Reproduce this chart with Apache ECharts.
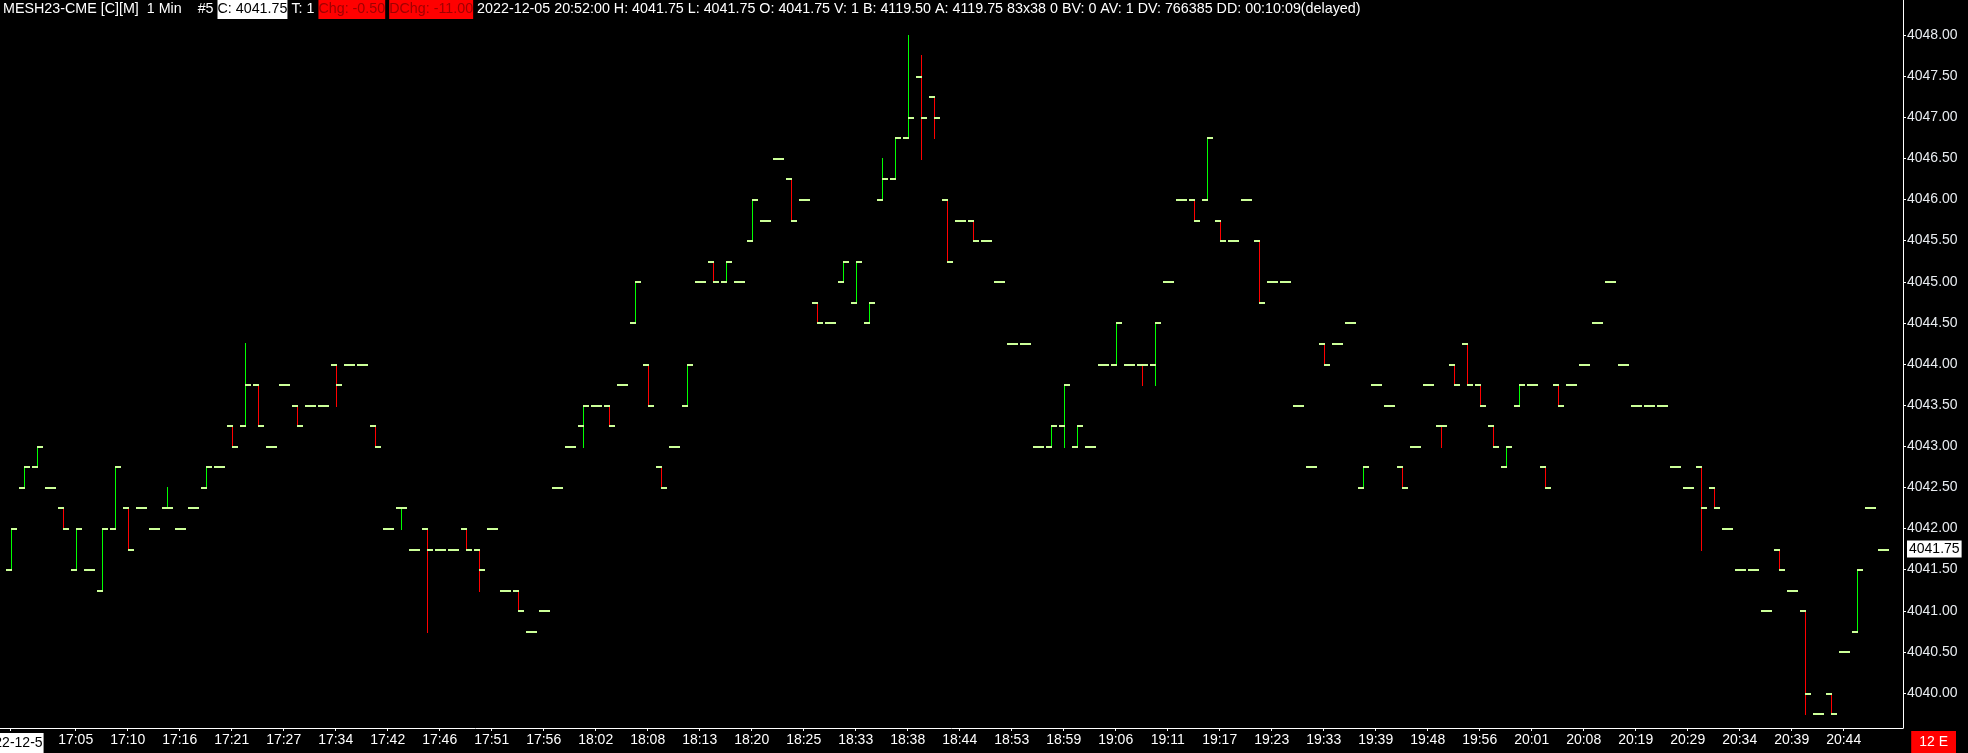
<!DOCTYPE html>
<html><head><meta charset="utf-8">
<script src="https://cdn.jsdelivr.net/npm/echarts@6/dist/echarts.min.js"></script>
<style>html,body{margin:0;padding:0;background:#000;overflow:hidden}#c{width:1968px;height:753px}</style>
</head><body><div id="c"></div>
<script>
// ---- data (bar index = position in arrays) ----
const opens = [
4041.5,4042.5,4042.75,4042.5,4042.25,4041.5,4041.5,4041.25,4042,4042.25,
4042.25,4042,4042.25,4042,4042.25,4042.5,4042.75,4043.25,4043.25,4043.75,
4043,4043.75,4043.5,4043.5,4043.5,4044,4044,4044,4043.25,4042,
4042.25,4041.75,4042,4041.75,4041.75,4042,4041.75,4042,4041.25,4041.25,
4040.75,4041,4042.5,4043,4043.25,4043.5,4043.5,4043.75,4044.5,4044,
4042.75,4043,4043.5,4045,4045.25,4045,4045,4045.5,4045.75,4046.5,
4046.25,4046,4044.75,4044.5,4045,4044.75,4044.5,4046,4046.25,4046.75,
4047.5,4047.25,4046,4045.75,4045.75,4045.5,4045,4044.25,4044.25,4043,
4043,4043.25,4043,4043,4044,4044,4044,4044,4044,4045,
4046,4046,4046,4045.75,4045.5,4046,4045.5,4045,4045,4043.5,
4042.75,4044.25,4044.25,4044.5,4042.5,4043.75,4043.5,4042.75,4043,4043.75,
4043.25,4044,4044.25,4043.75,4043.25,4042.75,4043.5,4043.75,4042.75,4043.75,
4043.75,4044,4044.5,4045,4044,4043.5,4043.5,4043.5,4042.75,4042.5,
4042.75,4042.5,4042,4041.5,4041.5,4041,4041.75,4041.25,4041,4039.75,
4040,4040.5,4040.75,4042.25,4041.75
];
const highs = [
4042,4042.75,4043,4042.5,4042.25,4042,4041.5,4042,4042.75,4042.25,
4042.25,4042,4042.5,4042,4042.25,4042.75,4042.75,4043.25,4044.25,4043.75,
4043,4043.75,4043.5,4043.5,4043.5,4044,4044,4044,4043.25,4042,
4042.25,4041.75,4042,4041.75,4041.75,4042,4041.75,4042,4041.25,4041.25,
4040.75,4041,4042.5,4043,4043.5,4043.5,4043.5,4043.75,4045,4044,
4042.75,4043,4044,4045,4045.25,4045.25,4045,4046,4045.75,4046.5,
4046.25,4046,4044.75,4044.5,4045.25,4045.25,4044.75,4046.5,4046.75,4048,
4047.75,4047.25,4046,4045.75,4045.75,4045.5,4045,4044.25,4044.25,4043,
4043.25,4043.75,4043.25,4043,4044,4044.5,4044,4044,4044.5,4045,
4046,4046,4046.75,4045.75,4045.5,4046,4045.5,4045,4045,4043.5,
4042.75,4044.25,4044.25,4044.5,4042.75,4043.75,4043.5,4042.75,4043,4043.75,
4043.25,4044,4044.25,4043.75,4043.25,4043,4043.75,4043.75,4042.75,4043.75,
4043.75,4044,4044.5,4045,4044,4043.5,4043.5,4043.5,4042.75,4042.5,
4042.75,4042.5,4042,4041.5,4041.5,4041,4041.75,4041.25,4041,4039.75,
4040,4040.5,4041.5,4042.25,4041.75
];
const lows = [
4041.5,4042.5,4042.75,4042.5,4042,4041.5,4041.5,4041.25,4042,4041.75,
4042.25,4042,4042.25,4042,4042.25,4042.5,4042.75,4043,4043.25,4043.25,
4043,4043.75,4043.25,4043.5,4043.5,4043.5,4044,4044,4043,4042,
4042,4041.75,4040.75,4041.75,4041.75,4041.75,4041.25,4042,4041.25,4041,
4040.75,4041,4042.5,4043,4043,4043.5,4043.25,4043.75,4044.5,4043.5,
4042.5,4043,4043.5,4045,4045,4045,4045,4045.5,4045.75,4046.5,
4045.75,4046,4044.5,4044.5,4045,4044.75,4044.5,4046,4046.25,4046.75,
4046.5,4046.75,4045.25,4045.75,4045.5,4045.5,4045,4044.25,4044.25,4043,
4043,4043,4043,4043,4044,4044,4044,4043.75,4043.75,4045,
4046,4045.75,4046,4045.5,4045.5,4046,4044.75,4045,4045,4043.5,
4042.75,4044,4044.25,4044.5,4042.5,4043.75,4043.5,4042.5,4043,4043.75,
4043,4043.75,4043.75,4043.5,4043,4042.75,4043.5,4043.75,4042.5,4043.5,
4043.75,4044,4044.5,4045,4044,4043.5,4043.5,4043.5,4042.75,4042.5,
4041.75,4042.25,4042,4041.5,4041.5,4041,4041.5,4041.25,4039.75,4039.75,
4039.75,4040.5,4040.75,4042.25,4041.75
];
const closes = [
4042,4042.75,4043,4042.5,4042,4042,4041.5,4042,4042.75,4041.75,
4042.25,4042,4042.25,4042,4042.25,4042.75,4042.75,4043,4043.75,4043.25,
4043,4043.75,4043.25,4043.5,4043.5,4043.75,4044,4044,4043,4042,
4042.25,4041.75,4041.75,4041.75,4041.75,4041.75,4041.5,4042,4041.25,4041,
4040.75,4041,4042.5,4043,4043.5,4043.5,4043.25,4043.75,4045,4043.5,
4042.5,4043,4044,4045,4045,4045.25,4045,4046,4045.75,4046.5,
4045.75,4046,4044.5,4044.5,4045.25,4045.25,4044.75,4046.25,4046.75,4047,
4047,4047,4045.25,4045.75,4045.5,4045.5,4045,4044.25,4044.25,4043,
4043.25,4043.75,4043.25,4043,4044,4044.5,4044,4044,4044.5,4045,
4046,4045.75,4046.75,4045.5,4045.5,4046,4044.75,4045,4045,4043.5,
4042.75,4044,4044.25,4044.5,4042.75,4043.75,4043.5,4042.5,4043,4043.75,
4043.25,4043.75,4043.75,4043.5,4043,4043,4043.75,4043.75,4042.5,4043.5,
4043.75,4044,4044.5,4045,4044,4043.5,4043.5,4043.5,4042.75,4042.5,
4042.25,4042.25,4042,4041.5,4041.5,4041,4041.5,4041.25,4040,4039.75,
4039.75,4040.5,4041.5,4042.25,4041.75
];
const xTickIndex = [0,5,9,13,17,21,25,29,33,37,41,45,49,53,57,61,65,69,73,77,81,85,89,93,97,101,105,109,113,117,121,125,129,133,137,141];
const xTickLabels = ['2022-12-5','17:05','17:10','17:16','17:21','17:27','17:34','17:42','17:46','17:51','17:56','18:02','18:08','18:13','18:20','18:25','18:33','18:38','18:44','18:53','18:59','19:06','19:11','19:17','19:23','19:33','19:39','19:48','19:56','20:01','20:08','20:19','20:29','20:34','20:39','20:44'];
const yTicks = [4040,4040.5,4041,4041.5,4042,4042.5,4043,4043.5,4044,4044.5,4045,4045.5,4046,4046.5,4047,4047.5,4048];
const lastPrice = 4041.75;

// ---- styling / layout ----
const FONT = "'Liberation Sans', Arial, sans-serif";
const UP = '#00ff00', DOWN = '#ff0000', TICK = '#ccff99';
const GRID = {left: 0, right: 65, top: 0, bottom: 25};
const PLOT_W = 1968 - GRID.left - GRID.right;
const BAR_STEP = 13, FIRST_X = 10.67;
const xMin = -FIRST_X / BAR_STEP, xMax = xMin + PLOT_W / BAR_STEP;
const PLOT_H = 753 - GRID.top - GRID.bottom;
const PX_PER_PT = 82.25, Y4048 = 35;
const yMax = 4048 + Y4048 / PX_PER_PT;
const yMin = yMax - PLOT_H / PX_PER_PT;

const data = opens.map((o, i) => {
  const c = closes[i];
  let dir;
  if (c > o) dir = 1; else if (c < o) dir = -1;
  else dir = (i > 0 && c > closes[i - 1]) ? 1 : -1;
  return [i, o, highs[i], lows[i], c, dir];
});

const labelMap = {};
xTickIndex.forEach((k, j) => labelMap[k] = xTickLabels[j]);

const chart = echarts.init(document.getElementById('c'), null, {renderer: 'canvas'});
chart.setOption({
  backgroundColor: '#000',
  animation: false,
  grid: Object.assign({outerBoundsMode: 'none', containLabel: false}, GRID),
  xAxis: {
    type: 'value', min: xMin, max: xMax,
    splitLine: {show: false},
    axisLine: {show: true, onZero: false, lineStyle: {color: '#ffffff', width: 1}},
    axisTick: {show: true, customValues: xTickIndex, length: 3, lineStyle: {color: '#ffffff'}},
    axisLabel: {
      show: true, customValues: xTickIndex, margin: 5, hideOverlap: false,
      formatter: v => {
        const t = labelMap[Math.round(v)] || '';
        return Math.round(v) === 0 ? '{d|' + t + '}' : '{t|' + t + '}';
      },
      rich: {
        t: {color: '#ffffff', fontSize: 14, fontFamily: FONT},
        d: {color: '#000000', backgroundColor: '#ffffff', fontSize: 14, fontFamily: FONT, padding: [3, 1, 3, 1]}
      }
    }
  },
  yAxis: {
    type: 'value', position: 'right', min: yMin, max: yMax,
    splitLine: {show: false},
    axisLine: {show: true, onZero: false, lineStyle: {color: '#ffffff', width: 1}},
    axisTick: {show: true, customValues: yTicks, length: 3, lineStyle: {color: '#ffffff'}},
    axisLabel: {
      show: true, customValues: yTicks, margin: 4,
      color: '#e8ecf0', fontSize: 14, fontFamily: FONT,
      formatter: v => v.toFixed(2)
    }
  },
  series: [{
    type: 'custom',
    data: data,
    encode: {x: 0, y: [1, 2, 3, 4]},
    clip: false,
    renderItem: function (params, api) {
      const i = api.value(0);
      const o = api.value(1), h = api.value(2), l = api.value(3), c = api.value(4), dir = api.value(5);
      const pO = api.coord([i, o]), pH = api.coord([i, h]), pL = api.coord([i, l]), pC = api.coord([i, c]);
      const x = Math.round(pO[0]);
      const col = dir > 0 ? UP : DOWN;
      const yH = Math.round(pH[1] - 0.5), yL = Math.round(pL[1] - 0.5);
      const yO = Math.round(pO[1] - 0.5), yC = Math.round(pC[1] - 0.5);
      const children = [];
      if (yL > yH) children.push({type: 'rect', shape: {x: x, y: yH, width: 1, height: yL - yH + 2}, style: {fill: col}});
      children.push({type: 'rect', shape: {x: x - 5, y: yO, width: 6, height: 2}, style: {fill: TICK}});
      children.push({type: 'rect', shape: {x: x, y: yC, width: 6, height: 2}, style: {fill: TICK}});
      return {type: 'group', children: children};
    }
  }],
  graphic: [
    {
      type: 'text', left: 3, top: 0, z: 100,
      style: {
        text: '{n|MESH23-CME [C][M]  1 Min    #5 }{w|C: 4041.75}{n| T: 1 }{r|Chg: -0.50}{n| }{r|DChg: -11.00}{n| 2022-12-05 20:52:00 H: 4041.75 L: 4041.75 O: 4041.75 V: 1 B: 4119.50 A: 4119.75 83x38 0 BV: 0 AV: 1 DV: 766385 DD: 00:10:09(delayed)}',
        rich: {
          n: {fill: '#ffffff', fontSize: 14.3, fontFamily: FONT, lineHeight: 19},
          w: {fill: '#000000', backgroundColor: '#ffffff', fontSize: 14.3, fontFamily: FONT, lineHeight: 19, height: 19},
          r: {fill: '#a00000', backgroundColor: '#ff0000', fontSize: 14.3, fontFamily: FONT, lineHeight: 19, height: 19}
        }
      }
    },
    {
      type: 'text', right: 12, bottom: 0, z: 100,
      style: {
        text: '12 E', fill: '#ffffff', backgroundColor: '#ff0000',
        fontSize: 14, fontFamily: FONT, padding: [4, 8, 4, 8]
      }
    }
  ]
});

// current price marker on the price axis, placed through the chart's own scale
const pp = chart.convertToPixel({gridIndex: 0}, [0, lastPrice]);
chart.setOption({
  graphic: [{
    id: 'lastPrice', type: 'text', z: 100,
    x: 1968 - GRID.right + 4, y: Math.round(pp[1]),
    style: {
      text: lastPrice.toFixed(2), fill: '#000000', backgroundColor: '#ffffff',
      fontSize: 14, fontFamily: FONT, padding: [2, 2, 1, 2], verticalAlign: 'middle', align: 'left'
    }
  }]
});
</script>
</body></html>
